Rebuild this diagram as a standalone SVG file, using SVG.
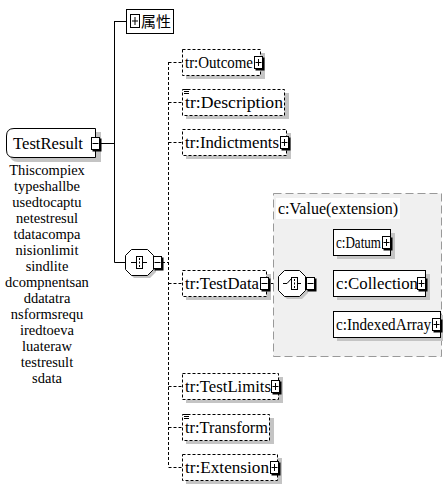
<svg xmlns="http://www.w3.org/2000/svg" xmlns:xlink="http://www.w3.org/1999/xlink" width="443" height="484" viewBox="0 0 443 484">
<style>
text{font-family:"Liberation Serif","Noto Sans CJK SC",serif;font-size:16px;fill:#000}
.desc{font-size:14.5px;text-anchor:middle}
.cjk{font-size:15px}
.opt{fill:#fff;stroke:#000;stroke-width:1;stroke-dasharray:3,2}
.req{fill:#fff;stroke:#000;stroke-width:1}
.shadow{fill:#c4c4c4}
.ln{stroke:#000;stroke-width:1;fill:none}
.dln{stroke:#000;stroke-width:1;fill:none;stroke-dasharray:3,2}
</style>
<defs>
<g id="plus"><rect x="1.5" y="1.5" width="9" height="13" fill="#000"/><rect x="0.5" y="0.5" width="8" height="12" fill="#fff" stroke="#000"/><path d="M1.5 6.5H7.5M4.5 3V10" stroke="#000"/></g>
<g id="minus"><rect x="1.5" y="1.5" width="9" height="13" fill="#000"/><rect x="0.5" y="0.5" width="8" height="12" fill="#fff" stroke="#000"/><path d="M1.5 6.5H7.5" stroke="#000"/></g>
<g id="doc"><path d="M0 0.5H5M0 2.5H5M0 4.5H5" stroke="#000" stroke-width="1"/></g>
</defs>
<rect width="443" height="484" fill="#fff"/>

<g id="connectors">
<path class="ln" d="M114.5 21V262.5M114.5 21.5H126M99 143.5H114.5M114.5 262.5H125"/>
<path class="dln" d="M168.5 62V467M168.5 62.5H182M168.5 102.5H182M168.5 142.5H182M162 262.5H168.5M168.5 283.5H182M168.5 386.5H182M168.5 427.5H182M168.5 467.5H182"/>
<path class="ln" d="M268 283.5H278M314 283.5H322.5M322.5 242V324M322.5 242.5H333M322.5 283.5H333M322.5 324.5H333"/>
</g>

<g id="value-group">
<rect x="273.5" y="193.5" width="168" height="163" fill="#f0f0f0" stroke="#999" stroke-dasharray="8,4"/>
<rect x="276" y="198" width="124" height="21" fill="#fff"/>
<text x="278" y="214" textLength="120" lengthAdjust="spacingAndGlyphs">c:Value(extension)</text>
</g>

<g id="attributes">
<rect x="126.5" y="9.5" width="47" height="24" class="req"/>
<rect x="130.5" y="14.5" width="9" height="13" fill="#fff" stroke="#000"/>
<path d="M132 21H138M135 17V25" stroke="#000"/>
<text class="cjk" x="141" y="27">属性</text>
</g>

<g id="TestResult">
<path d="M18 132H101V162H18Q10 162 10 154V140Q10 132 18 132Z" class="shadow"/>
<path d="M14 128.5H95.5V157.5H14Q6.5 157.5 6.5 150V136Q6.5 128.5 14 128.5Z" class="req"/>
<text x="13" y="149" textLength="70" lengthAdjust="spacingAndGlyphs">TestResult</text>
<use xlink:href="#minus" x="91" y="137"/>
<text class="desc" x="47" y="175">Thiscompiex</text>
<text class="desc" x="47" y="191">typeshallbe</text>
<text class="desc" x="47" y="207">usedtocaptu</text>
<text class="desc" x="47" y="223">netestresul</text>
<text class="desc" x="47" y="239">tdatacompa</text>
<text class="desc" x="47" y="255">nisionlimit</text>
<text class="desc" x="47" y="271">sindlite</text>
<text class="desc" x="47" y="287">dcompnentsan</text>
<text class="desc" x="47" y="303">ddatatra</text>
<text class="desc" x="47" y="319">nsformsrequ</text>
<text class="desc" x="47" y="335">iredtoeva</text>
<text class="desc" x="47" y="351">luateraw</text>
<text class="desc" x="47" y="367">testresult</text>
<text class="desc" x="47" y="383">sdata</text>
</g>

<g id="sequence">
<polygon points="134,252 150,252 156,258 156,272 150,278 134,278 128,272 128,258" class="shadow"/>
<polygon points="131.5,249.5 147.5,249.5 153.5,255.5 153.5,269.5 147.5,275.5 131.5,275.5 125.5,269.5 125.5,255.5" class="req"/>
<path d="M131 262.5H147" stroke="#000"/>
<rect x="136.5" y="256.5" width="6" height="12" fill="#fff" stroke="#000"/>
<path d="M139.5 258V260M139.5 261.5V263.5M139.5 265V267" stroke="#000"/>
<use xlink:href="#minus" x="153" y="256"/>
</g>

<g id="Outcome">
<rect x="186" y="53" width="79" height="26" class="shadow"/>
<rect x="182.5" y="49.5" width="78" height="26" class="opt"/>
<text x="185" y="68" textLength="68" lengthAdjust="spacingAndGlyphs">tr:Outcome</text>
<use xlink:href="#plus" x="254" y="56"/>
</g>

<g id="Description">
<rect x="186" y="93" width="103" height="26" class="shadow"/>
<rect x="182.5" y="89.5" width="102" height="26" class="opt"/>
<use xlink:href="#doc" x="184" y="89"/>
<text x="185" y="108" textLength="98" lengthAdjust="spacingAndGlyphs">tr:Description</text>
</g>

<g id="Indictments">
<rect x="186" y="133" width="105" height="26" class="shadow"/>
<rect x="182.5" y="129.5" width="104" height="26" class="opt"/>
<text x="185" y="148" textLength="94" lengthAdjust="spacingAndGlyphs">tr:Indictments</text>
<use xlink:href="#plus" x="280" y="136"/>
</g>

<g id="TestData">
<rect x="186" y="274" width="85" height="26" class="shadow"/>
<rect x="182.5" y="270.5" width="84" height="26" class="opt"/>
<text x="185" y="289" textLength="74" lengthAdjust="spacingAndGlyphs">tr:TestData</text>
<use xlink:href="#minus" x="260" y="277"/>
</g>

<g id="choice">
<polygon points="287,273 302,273 308,279 308,293 302,299 287,299 281,293 281,279" class="shadow"/>
<polygon points="284.5,270.5 299.5,270.5 305.5,276.5 305.5,290.5 299.5,296.5 284.5,296.5 278.5,290.5 278.5,276.5" class="req"/>
<path d="M283 283.5H287L292 278M297 283.5H301" stroke="#000" fill="none"/>
<rect x="291.5" y="277.5" width="6" height="12" fill="#fff" stroke="#000"/>
<path d="M294.5 279V281M294.5 282.5V284.5M294.5 286V288" stroke="#000"/>
<use xlink:href="#minus" x="306" y="277"/>
</g>

<g id="Datum">
<rect x="337" y="233" width="58" height="26" class="shadow"/>
<rect x="333.5" y="229.5" width="57" height="26" class="req"/>
<text x="336" y="248" textLength="45" lengthAdjust="spacingAndGlyphs">c:Datum</text>
<use xlink:href="#plus" x="382" y="236"/>
</g>

<g id="Collection">
<rect x="337" y="274" width="93" height="26" class="shadow"/>
<rect x="333.5" y="270.5" width="92" height="26" class="req"/>
<text x="336" y="289" textLength="82" lengthAdjust="spacingAndGlyphs">c:Collection</text>
<use xlink:href="#plus" x="417" y="277"/>
</g>

<g id="IndexedArray">
<rect x="337" y="315" width="106" height="26" class="shadow"/>
<rect x="333.5" y="311.5" width="107" height="26" class="req"/>
<text x="336" y="330" textLength="95" lengthAdjust="spacingAndGlyphs">c:IndexedArray</text>
<use xlink:href="#plus" x="432" y="318"/>
</g>

<g id="TestLimits">
<rect x="186" y="377" width="97" height="26" class="shadow"/>
<rect x="182.5" y="373.5" width="96" height="26" class="opt"/>
<text x="185" y="392" textLength="86" lengthAdjust="spacingAndGlyphs">tr:TestLimits</text>
<use xlink:href="#plus" x="271" y="380"/>
</g>

<g id="Transform">
<rect x="186" y="418" width="88" height="26" class="shadow"/>
<rect x="182.5" y="414.5" width="87" height="26" class="opt"/>
<use xlink:href="#doc" x="184" y="414"/>
<text x="185" y="433" textLength="83" lengthAdjust="spacingAndGlyphs">tr:Transform</text>
</g>

<g id="Extension">
<rect x="186" y="458" width="96" height="26" class="shadow"/>
<rect x="182.5" y="454.5" width="95" height="26" class="opt"/>
<text x="185" y="473" textLength="84" lengthAdjust="spacingAndGlyphs">tr:Extension</text>
<use xlink:href="#plus" x="270" y="461"/>
</g>
</svg>
